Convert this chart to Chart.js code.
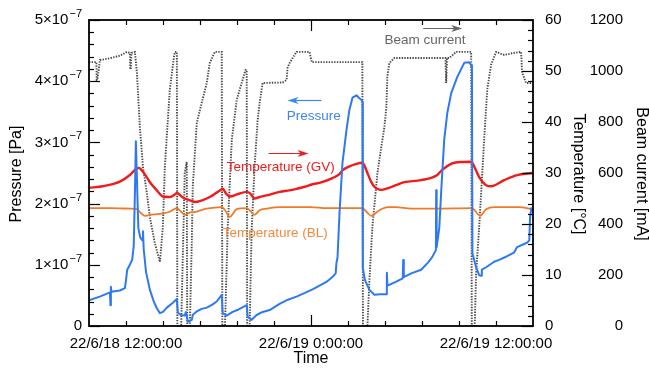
<!DOCTYPE html>
<html>
<head>
<meta charset="utf-8">
<script src="https://cdn.jsdelivr.net/npm/chart.js@4/dist/chart.umd.min.js"></script>
<style>
  html, body { margin: 0; padding: 0; background: #fff; }
  #wrap { width: 649px; height: 369px; }
</style>
</head>
<body>
<div id="wrap"><canvas id="c" width="649" height="369"></canvas></div>
<script>
// Time is expressed in hours from 22/6/18 0:00.
const timeTickHours = [12, 14.4, 16.8, 19.2, 21.6, 24, 26.4, 28.8, 31.2, 33.6, 36];
const timeMajorHours = [24];
const timeTickLabels = { 12: '22/6/18 12:00:00', 24: '22/6/19 0:00:00', 36: '22/6/19 12:00:00' };

// Pressure, in units of 1e-7 Pa
const pressureHours = [9.60, 10.30, 10.96, 10.99, 11.02, 11.05, 11.60, 11.93, 12.00, 12.08, 12.25, 12.40, 12.50, 12.58, 12.64, 12.71, 12.80, 12.92, 13.06, 13.10, 13.15, 13.30, 13.55, 13.80, 14.00, 14.20, 14.40, 14.65, 15.04, 15.30, 15.36, 15.55, 15.81, 15.88, 15.95, 16.01, 16.27, 16.33, 16.60, 16.90, 17.24, 17.60, 17.88, 18.21, 18.27, 18.53, 18.92, 19.30, 19.83, 19.89, 20.15, 20.47, 20.86, 21.32, 21.96, 22.50, 23.06, 23.60, 24.10, 24.55, 25.00, 25.39, 25.60, 25.65, 25.72, 25.85, 26.04, 26.30, 26.49, 26.69, 26.95, 27.10, 27.30, 27.34, 27.36, 27.50, 27.79, 28.11, 28.50, 28.89, 28.92, 28.96, 29.50, 29.95, 29.98, 30.02, 30.50, 31.15, 31.60, 31.87, 32.10, 32.12, 32.15, 32.32, 32.45, 32.64, 32.84, 33.10, 33.49, 33.94, 34.26, 34.39, 34.44, 34.47, 34.71, 34.91, 35.04, 35.08, 35.36, 35.88, 36.20, 36.72, 37.17, 37.37, 38.01, 38.16, 38.21, 38.30];
const pressureE7 = [0.42, 0.48, 0.55, 0.34, 0.64, 0.56, 0.58, 0.62, 0.75, 0.92, 1.00, 1.08, 1.30, 2.20, 3.02, 2.40, 1.60, 1.45, 1.40, 1.55, 1.25, 0.88, 0.59, 0.40, 0.29, 0.21, 0.23, 0.30, 0.38, 0.44, 0.22, 0.18, 0.17, 0.23, 0.15, 0.07, 0.10, 0.18, 0.24, 0.28, 0.30, 0.35, 0.40, 0.51, 0.21, 0.17, 0.23, 0.27, 0.34, 0.15, 0.10, 0.18, 0.23, 0.26, 0.36, 0.43, 0.48, 0.54, 0.60, 0.66, 0.72, 0.80, 0.86, 1.03, 1.12, 1.85, 2.66, 3.20, 3.53, 3.73, 3.77, 3.73, 3.69, 3.66, 0.95, 0.75, 0.59, 0.51, 0.52, 0.52, 0.87, 0.66, 0.72, 0.78, 1.08, 0.80, 0.86, 0.92, 1.04, 1.13, 1.24, 2.22, 1.29, 1.60, 2.22, 3.04, 3.48, 3.81, 4.07, 4.30, 4.31, 4.26, 4.22, 1.19, 0.96, 0.83, 0.82, 0.92, 0.96, 1.05, 1.08, 1.14, 1.20, 1.29, 1.36, 1.40, 1.78, 1.94];

// Temperature at the gate valve, °C
const tempGVHours = [9.60, 10.50, 11.60, 12.25, 12.58, 12.84, 13.00, 13.30, 13.55, 14.00, 14.39, 14.84, 15.17, 15.30, 15.60, 15.81, 16.20, 16.46, 16.90, 17.43, 17.90, 18.21, 18.27, 18.50, 18.73, 19.20, 19.83, 20.05, 20.34, 20.67, 21.12, 21.96, 22.60, 23.06, 23.60, 24.10, 24.60, 25.39, 25.85, 26.04, 26.50, 26.95, 27.33, 27.50, 27.66, 27.90, 28.11, 28.56, 28.95, 29.50, 30.05, 31.15, 32.19, 32.51, 33.30, 34.39, 34.50, 34.91, 35.36, 35.68, 36.53, 37.37, 38.34];
const tempGV = [27.1, 27.4, 28.3, 29.6, 30.6, 31.0, 30.6, 29.4, 28.2, 26.6, 25.4, 25.3, 25.8, 26.1, 25.4, 25.0, 24.6, 24.3, 24.6, 25.3, 26.2, 26.8, 26.9, 25.9, 25.4, 25.8, 26.3, 26.0, 25.0, 25.3, 25.6, 26.3, 26.6, 26.9, 27.3, 27.8, 28.1, 29.0, 29.8, 30.5, 31.3, 31.8, 32.0, 31.2, 30.0, 28.3, 27.3, 26.7, 27.0, 27.6, 28.2, 28.6, 29.6, 30.6, 32.0, 32.2, 31.8, 29.2, 27.6, 27.4, 28.6, 29.6, 30.0];

// Temperature at the beam line, °C
const tempBLHours = [9.60, 11.00, 12.30, 12.70, 12.95, 13.22, 13.55, 14.20, 14.84, 15.30, 15.55, 15.81, 16.10, 16.50, 17.24, 18.21, 18.40, 18.73, 19.18, 19.83, 20.05, 20.34, 20.67, 21.12, 22.00, 24.00, 25.00, 27.33, 27.66, 27.90, 28.43, 29.00, 29.50, 30.50, 32.00, 34.45, 34.80, 34.97, 35.36, 35.90, 37.50, 38.34];
const tempBL = [23.1, 23.1, 23.0, 22.9, 22.2, 21.6, 21.8, 22.0, 22.4, 23.1, 22.5, 21.8, 22.2, 22.4, 23.0, 23.3, 22.8, 21.4, 22.9, 23.1, 22.6, 21.8, 22.7, 23.0, 23.3, 23.3, 23.1, 23.1, 22.2, 21.6, 22.7, 23.3, 23.3, 23.0, 23.0, 23.1, 22.0, 21.6, 22.9, 23.3, 23.3, 22.9];

// Stored beam current, mA
const beamHours = [9.60, 10.08, 10.10, 10.14, 10.31, 10.96, 11.61, 12.06, 12.25, 12.28, 12.31, 12.35, 12.58, 12.71, 12.90, 13.10, 13.35, 13.55, 13.87, 14.20, 14.39, 14.52, 14.84, 15.10, 15.17, 15.30, 15.33, 15.58, 15.81, 15.94, 15.97, 16.14, 16.27, 16.33, 16.59, 16.91, 17.24, 17.43, 17.76, 18.21, 18.25, 18.42, 18.60, 18.86, 19.18, 19.50, 19.76, 19.83, 19.86, 20.02, 20.15, 20.34, 20.54, 20.67, 20.86, 22.16, 22.42, 22.48, 22.61, 23.06, 23.90, 24.05, 27.33, 27.37, 27.66, 27.79, 27.98, 28.31, 28.56, 28.76, 28.89, 28.95, 29.08, 29.41, 32.72, 32.77, 32.82, 32.97, 33.42, 34.39, 34.43, 34.62, 34.71, 34.91, 35.23, 35.43, 35.68, 36.01, 36.53, 37.17, 37.63, 37.69, 37.95, 38.34];
const beamMA = [1035, 1035, 965, 965, 1043, 1050, 1060, 1075, 1071, 1012, 1012, 1071, 1075, 990, 780, 624, 522, 427, 325, 251, 388, 624, 926, 1051, 1075, 1075, 0, 0, 600, 643, 0, 0, 337, 545, 796, 875, 953, 1031, 1075, 1075, 0, 0, 388, 729, 886, 953, 1004, 1004, 0, 0, 376, 624, 808, 875, 953, 955, 965, 1012, 1031, 1075, 1075, 1035, 1035, 0, 0, 180, 388, 600, 702, 780, 859, 977, 1031, 1051, 1051, 953, 1051, 1051, 1075, 1075, 0, 0, 208, 388, 729, 926, 1024, 1075, 1063, 1071, 1075, 996, 953, 953];

// Axis labels
const pressureTitle = 'Pressure [Pa]';
const tempTitle = 'Temperature [°C]';
const beamTitle = 'Beam current [mA]';
const timeTitle = 'Time';

const BLUE = '#2e78f2';
const RED = '#f01c1c';
const ORANGE = '#f07a26';
const GREY = '#4a4a4a';
const FONT = '"Liberation Sans", Arial, Helvetica, sans-serif';

// In-plot captions, anchored in (hours, pressure ×1e-7) coordinates
const captions = [
  { text: 'Beam current', color: '#666666', x: 28.76, y: 4.67, arrow: { from: 31.28, to: 33.81, y: 4.87 } },
  { text: 'Pressure', color: '#3f86f5', x: 22.42, y: 3.42, arrow: { from: 24.68, to: 22.48, y: 3.69 } },
  { text: 'Temperature (GV)', color: RED, x: 18.53, y: 2.60, arrow: { from: 21.25, to: 23.84, y: 2.83 } },
  { text: 'Temperature (BL)', color: '#f28a3e', x: 18.27, y: 1.52 }
];

function pts(hs, vs) { return hs.map((h, i) => ({ x: h, y: vs[i] })); }
function range(lo, hi, step) { const a = []; for (let i = 0; lo + i * step <= hi + 1e-9; i++) a.push(+(lo + i * step).toFixed(6)); return a; }

function seg(ctx, x1, y1, x2, y2) { ctx.beginPath(); ctx.moveTo(x1, y1); ctx.lineTo(x2, y2); ctx.stroke(); }

const axisDecor = {
  id: 'axisDecor',
  afterDraw(chart) {
    const { ctx, chartArea: a, scales } = chart;
    const sx = scales.x, sp = scales.yP, st = scales.yT, sb = scales.yB;
    ctx.save();
    ctx.strokeStyle = '#000';
    ctx.fillStyle = '#000';
    ctx.lineWidth = 1.2;

    // inward tick marks: time on bottom and top
    sx.ticks.forEach(t => {
      const px = Math.round(sx.getPixelForValue(t.value)) + 0.5;
      const len = timeMajorHours.includes(t.value) ? 11 : 5;
      seg(ctx, px, a.bottom, px, a.bottom - len);
      seg(ctx, px, a.top, px, a.top + len);
    });
    // pressure ticks on left
    sp.ticks.forEach(t => {
      const py = Math.round(sp.getPixelForValue(t.value)) + 0.5;
      const major = Math.abs(t.value - Math.round(t.value)) < 1e-6;
      seg(ctx, a.left, py, a.left + (major ? 11 : 5), py);
    });
    // temperature ticks on right
    st.ticks.forEach(t => {
      const py = Math.round(st.getPixelForValue(t.value)) + 0.5;
      const major = t.value % 10 === 0;
      seg(ctx, a.right, py, a.right - (major ? 11 : 5), py);
    });

    // frame
    ctx.lineWidth = 1.8;
    ctx.strokeRect(a.left, a.top, a.right - a.left, a.bottom - a.top);

    // pressure labels n×10^-7
    ctx.textBaseline = 'middle';
    sp.ticks.forEach(t => {
      if (Math.abs(t.value - Math.round(t.value)) > 1e-6) return;
      const v = Math.round(t.value);
      const py = sp.getPixelForValue(t.value);
      const right = a.left - 7;
      if (v === 0) {
        ctx.font = '15px ' + FONT; ctx.textAlign = 'right';
        ctx.fillText('0', right, py);
        return;
      }
      const base = v + '×10', sup = '−7';
      ctx.font = '15px ' + FONT; const wb = ctx.measureText(base).width;
      ctx.font = '11px ' + FONT; const ws = ctx.measureText(sup).width;
      ctx.textAlign = 'left';
      ctx.font = '15px ' + FONT; ctx.fillText(base, right - wb - ws - 1, py);
      ctx.font = '11px ' + FONT; ctx.fillText(sup, right - ws, py - 6);
    });

    // temperature labels
    ctx.font = '15px ' + FONT;
    ctx.textAlign = 'left';
    st.ticks.forEach(t => {
      if (t.value % 10 !== 0) return;
      ctx.fillText(String(t.value), a.right + 12, st.getPixelForValue(t.value));
    });
    // beam current labels
    ctx.textAlign = 'right';
    sb.ticks.forEach(t => {
      ctx.fillText(String(t.value), 623, sb.getPixelForValue(t.value));
    });
    // time labels
    ctx.textAlign = 'center';
    sx.ticks.forEach(t => {
      const lab = timeTickLabels[t.value];
      if (lab) ctx.fillText(lab, sx.getPixelForValue(t.value), a.bottom + 18);
    });

    // axis titles
    ctx.font = '16px ' + FONT;
    ctx.textAlign = 'center';
    ctx.fillText(timeTitle, (a.left + a.right) / 2, a.bottom + 33);
    const midY = (a.top + a.bottom) / 2 + 1;
    ctx.save(); ctx.translate(17, midY); ctx.rotate(-Math.PI / 2); ctx.fillText(pressureTitle, 0, 0); ctx.restore();
    ctx.save(); ctx.translate(578, midY); ctx.rotate(Math.PI / 2); ctx.fillText(tempTitle, 0, 0); ctx.restore();
    ctx.save(); ctx.translate(641, midY); ctx.rotate(Math.PI / 2); ctx.fillText(beamTitle, 0, 0); ctx.restore();

    // captions with arrows
    ctx.font = '13.5px ' + FONT;
    ctx.textAlign = 'left';
    captions.forEach(c => {
      ctx.fillStyle = c.color; ctx.strokeStyle = c.color;
      ctx.fillText(c.text, sx.getPixelForValue(c.x), sp.getPixelForValue(c.y));
      if (c.arrow) {
        const x1 = sx.getPixelForValue(c.arrow.from), x2 = sx.getPixelForValue(c.arrow.to);
        const y = Math.round(sp.getPixelForValue(c.arrow.y)) + 0.5;
        const dir = Math.sign(x2 - x1);
        ctx.lineWidth = 1.2;
        seg(ctx, x1, y, x2 - dir * 6, y);
        ctx.beginPath();
        ctx.moveTo(x2, y);
        ctx.lineTo(x2 - dir * 11, y - 3.5);
        ctx.lineTo(x2 - dir * 8, y);
        ctx.lineTo(x2 - dir * 11, y + 3.5);
        ctx.closePath();
        ctx.fill();
      }
    });
    ctx.restore();
  }
};

const hiddenTicks = { display: false };
const noGrid = { display: false, drawTicks: false };

new Chart(document.getElementById('c').getContext('2d'), {
  type: 'line',
  data: {
    datasets: [
      { label: 'Pressure', data: pts(pressureHours, pressureE7), yAxisID: 'yP', borderColor: BLUE, borderWidth: 2, order: 1 },
      { label: 'Temperature (GV)', data: pts(tempGVHours, tempGV), yAxisID: 'yT', borderColor: RED, borderWidth: 2.4, cubicInterpolationMode: 'monotone', order: 2 },
      { label: 'Temperature (BL)', data: pts(tempBLHours, tempBL), yAxisID: 'yT', borderColor: ORANGE, borderWidth: 1.8, cubicInterpolationMode: 'monotone', order: 3 },
      { label: 'Beam current', data: pts(beamHours, beamMA), yAxisID: 'yB', borderColor: GREY, borderWidth: 1.9, borderDash: [1.4, 1.3], borderCapStyle: 'butt', borderJoinStyle: 'miter', order: 4 }
    ]
  },
  options: {
    responsive: false,
    animation: false,
    devicePixelRatio: 1,
    parsing: false,
    layout: { padding: { top: 20, left: 0, right: 0, bottom: 0 } },
    elements: { point: { radius: 0 }, line: { tension: 0, borderJoinStyle: 'round', fill: false } },
    plugins: { legend: { display: false }, tooltip: { enabled: false } },
    scales: {
      x: {
        type: 'linear', position: 'bottom', min: 9.6, max: 38.4,
        grid: noGrid, border: { display: false }, ticks: hiddenTicks,
        afterBuildTicks: s => { s.ticks = timeTickHours.map(v => ({ value: v })); },
        afterFit: s => { s.height = 43; }
      },
      yP: {
        type: 'linear', position: 'left', min: 0, max: 5,
        grid: noGrid, border: { display: false }, ticks: hiddenTicks,
        afterBuildTicks: s => { s.ticks = range(0, 5, 0.2).map(v => ({ value: v })); },
        afterFit: s => { s.width = 89; }
      },
      yT: {
        type: 'linear', position: 'right', min: 0, max: 60, weight: 0,
        grid: noGrid, border: { display: false }, ticks: hiddenTicks,
        afterBuildTicks: s => { s.ticks = range(0, 60, 2).map(v => ({ value: v })); },
        afterFit: s => { s.width = 58; }
      },
      yB: {
        type: 'linear', position: 'right', min: 0, max: 1200, weight: 1,
        grid: noGrid, border: { display: false }, ticks: hiddenTicks,
        afterBuildTicks: s => { s.ticks = range(0, 1200, 200).map(v => ({ value: v })); },
        afterFit: s => { s.width = 58; }
      }
    }
  },
  plugins: [axisDecor]
});
</script>
</body>
</html>
